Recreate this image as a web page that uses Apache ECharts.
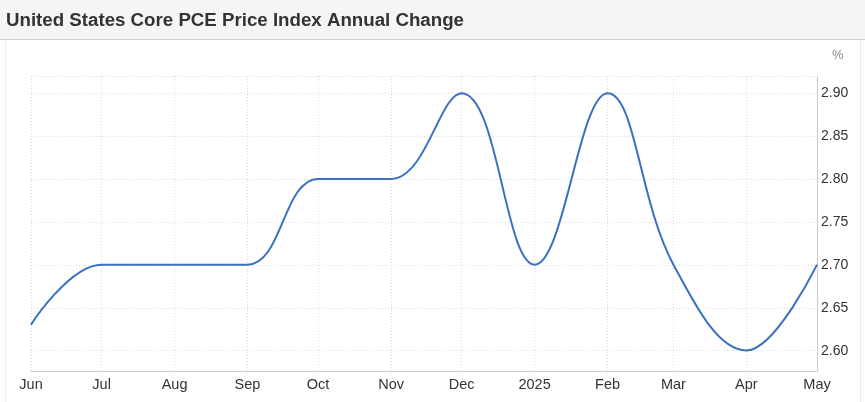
<!DOCTYPE html>
<html>
<head>
<meta charset="utf-8">
<script src="https://cdn.jsdelivr.net/npm/echarts@6/dist/echarts.min.js"></script>
<style>
html,body{margin:0;padding:0;background:#fff;}
#chart{width:865px;height:402px;}
</style>
</head>
<body>
<div id="chart"></div>
<script>
const titleText = 'United States Core PCE Price Index Annual Change';
const dates = ['2024-06-01','2024-07-01','2024-08-01','2024-09-01','2024-10-01','2024-11-01','2024-12-01','2025-01-01','2025-02-01','2025-03-01','2025-04-01','2025-05-01'];
const tickLabels = ['Jun','Jul','Aug','Sep','Oct','Nov','Dec','2025','Feb','Mar','Apr','May'];
const values = [2.63, 2.70, 2.70, 2.70, 2.80, 2.80, 2.90, 2.70, 2.90, 2.70, 2.60, 2.70];
const yTicks = [2.60, 2.65, 2.70, 2.75, 2.80, 2.85, 2.90];

const chart = echarts.init(document.getElementById('chart'));
const DAY = 86400000;
function labelFor(v){
  const d = new Date(v);
  for (let i = 0; i < dates.length; i++) {
    const p = dates[i].split('-').map(Number);
    if (d.getFullYear() === p[0] && d.getMonth() === p[1]-1 && d.getDate() === p[2]) return tickLabels[i];
  }
  return '';
}
const option = {
  animation: false,
  backgroundColor: '#fff',
  graphic: [
    {type:'rect', shape:{x:0,y:0,width:865,height:39}, style:{fill:'#f5f5f5'}, silent:true, z:0},
    {type:'line', shape:{x1:0,y1:39.5,x2:865,y2:39.5}, style:{stroke:'#cfcfcf',lineWidth:1}, silent:true},
    {type:'line', shape:{x1:5.5,y1:40,x2:5.5,y2:402}, style:{stroke:'#ececec',lineWidth:1}, silent:true},
    {type:'line', shape:{x1:860.5,y1:40,x2:860.5,y2:402}, style:{stroke:'#ececec',lineWidth:1}, silent:true},
    {type:'text', left:832, top:49, style:{text:'%', fill:'#888', font:'13px "Liberation Sans", Arial, sans-serif'}}
  ],
  title: {
    text: titleText,
    left: 1, top: 6,
    textStyle: {fontFamily:'"Liberation Sans", Arial, sans-serif', fontWeight:'bold', fontSize:18.7, color:'#333'}
  },
  grid: [
    {left:31, right:48, top:76, bottom:31, containLabel:false},
    {left:31, right:48, top:93.5, bottom:51.3, containLabel:false}
  ],
  xAxis: [
    {
      type:'time', gridIndex:0,
      min: dates[0], max: dates[dates.length-1],
      splitNumber: 11,
      minInterval: 28*DAY, maxInterval: 31*DAY,
      axisLine:{show:true, lineStyle:{color:'#ccc', width:1}},
      axisTick:{show:false},
      splitLine:{show:true, lineStyle:{color:'#dcdcdc', type:[1,2], width:1}},
      axisLabel:{
        color:'#333', fontSize:14.5, fontFamily:'"Liberation Sans", Arial, sans-serif',
        margin:6, hideOverlap:false, showMinLabel:true, showMaxLabel:true,
        formatter: labelFor
      }
    },
    {type:'value', gridIndex:1, show:false, min:0, max:1}
  ],
  yAxis: [
    {
      type:'value', gridIndex:0, position:'right',
      min: 2.576, max: 2.92, interval: 0.344,
      axisLine:{show:true, lineStyle:{color:'#ccc'}},
      axisTick:{show:false},
      axisLabel:{show:false},
      splitLine:{show:true, lineStyle:{color:'#dcdcdc', type:[1,2]}}
    },
    {
      type:'value', gridIndex:1, position:'right',
      min: yTicks[0], max: yTicks[yTicks.length-1], interval: 0.05,
      axisLine:{show:false}, axisTick:{show:false},
      axisLabel:{color:'#333', fontSize:14, margin:4, fontFamily:'"Liberation Sans", Arial, sans-serif',
        formatter: v => v.toFixed(2)},
      splitLine:{show:true, lineStyle:{color:'#dcdcdc', type:[1,2]}}
    }
  ],
  series: [{
    type:'line', xAxisIndex:0, yAxisIndex:0,
    data: dates.map((d,i)=>[d, values[i]]),
    smooth: 0.4,
    showSymbol:false, symbol:'none',
    lineStyle:{color:'#3a70c0', width:2},
    z:5
  }]
};
chart.setOption(option);
</script>
</body>
</html>
